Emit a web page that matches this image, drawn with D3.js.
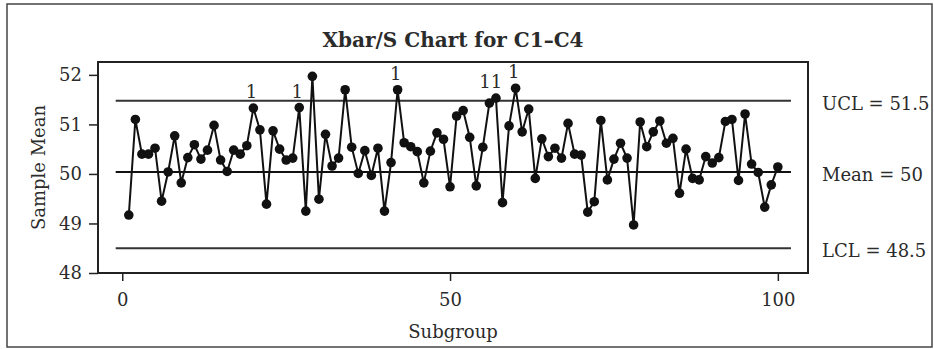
<!DOCTYPE html>
<html>
<head>
<meta charset="utf-8">
<script src="https://cdn.jsdelivr.net/npm/d3@7"></script>
<style>
    body { margin: 0; background: #ffffff; }
    text { font-family: "DejaVu Serif", serif; fill: #2b2b2b; }
</style>
</head>
<body>
<div id="chart"></div>
<script>
// sample means per subgroup
var subgroups = d3.range( 1, 101 );
var means = [
    49.17, 51.10, 50.40, 50.40, 50.52, 49.45, 50.04, 50.77, 49.82, 50.33,
    50.59, 50.30, 50.48, 50.98, 50.28, 50.05, 50.48, 50.40, 50.57, 51.33,
    50.89, 49.39, 50.87, 50.50, 50.28, 50.32, 51.34, 49.25, 51.97, 49.49,
    50.80, 50.16, 50.32, 51.70, 50.54, 50.01, 50.47, 49.97, 50.52, 49.25,
    50.23, 51.70, 50.63, 50.55, 50.45, 49.82, 50.46, 50.83, 50.70, 49.74,
    51.17, 51.28, 50.74, 49.76, 50.54, 51.43, 51.53, 49.42, 50.97, 51.73,
    50.85, 51.31, 49.91, 50.71, 50.35, 50.52, 50.32, 51.02, 50.40, 50.38,
    49.23, 49.44, 51.08, 49.88, 50.30, 50.62, 50.32, 48.97, 51.05, 50.55,
    50.85, 51.07, 50.62, 50.72, 49.61, 50.50, 49.91, 49.88, 50.35, 50.22,
    50.33, 51.06, 51.10, 49.87, 51.21, 50.20, 50.03, 49.33, 49.78, 50.14
];
var flagged = [20, 27, 42, 56, 57, 60];
var limitValues = [51.48, 50.04, 48.5];
var limitLabels = ["UCL = 51.5", "Mean = 50", "LCL = 48.5"];
var xTicks = [0, 50, 100];
var yTicks = [48, 49, 50, 51, 52];

var width = 934, height = 349;
var plot = {left: 98, right: 808, top: 62, bottom: 273};

var svg = d3.select( "#chart" )
    .append( "svg" )
    .attr( "width", width )
    .attr( "height", height );

// outer frame
svg.append( "rect" )
    .attr( "x", 7 ).attr( "y", 4 )
    .attr( "width", 925 ).attr( "height", 343 )
    .attr( "fill", "none" )
    .attr( "stroke", "#444" )
    .attr( "stroke-width", 1.5 );

var xScale = d3.scaleLinear()
    .domain( [-3.7, 104.6] )
    .range( [plot.left, plot.right] );

var yScale = d3.scaleLinear()
    .domain( [48, 52.26] )
    .range( [plot.bottom, plot.top] );

// plot box
svg.append( "rect" )
    .attr( "x", plot.left ).attr( "y", plot.top )
    .attr( "width", plot.right - plot.left )
    .attr( "height", plot.bottom - plot.top )
    .attr( "fill", "none" )
    .attr( "stroke", "#222" )
    .attr( "stroke-width", 2 );

// axes
var yAxis = svg.append( "g" )
    .attr( "transform", "translate(" + plot.left + ",0)" )
    .call( d3.axisLeft( yScale ).tickValues( yTicks ).tickFormat( d3.format( "d" ) )
        .tickSize( 9 ).tickSizeOuter( 0 ).tickPadding( 7 ) );

var xAxis = svg.append( "g" )
    .attr( "transform", "translate(0," + plot.bottom + ")" )
    .call( d3.axisBottom( xScale ).tickValues( xTicks ).tickFormat( d3.format( "d" ) )
        .tickSize( 8 ).tickSizeOuter( 0 ).tickPadding( 12 ) );

[yAxis, xAxis].forEach( function (ax) {
    ax.select( ".domain" ).remove();
    ax.selectAll( "line" ).attr( "stroke", "#222" ).attr( "stroke-width", 1.5 );
    ax.selectAll( "text" )
        .style( "font-family", "DejaVu Serif, serif" )
        .style( "font-size", "18px" )
        .attr( "fill", "#2b2b2b" );
} );

// control limit lines
svg.selectAll( "line.limit" )
    .data( limitValues )
    .enter()
    .append( "line" )
    .attr( "class", "limit" )
    .attr( "x1", xScale( -1 ) )
    .attr( "x2", xScale( 102 ) )
    .attr( "y1", function (d) { return yScale( d ); } )
    .attr( "y2", function (d) { return yScale( d ); } )
    .attr( "stroke", function (d, i) { return i == 1 ? "#111" : "#333"; } )
    .attr( "stroke-width", 2 );

// limit labels on the right
svg.selectAll( "text.limit" )
    .data( limitValues )
    .enter()
    .append( "text" )
    .attr( "class", "limit" )
    .attr( "x", 822 )
    .attr( "y", function (d) { return yScale( d ) + 9; } )
    .style( "font-size", "18px" )
    .text( function (d, i) { return limitLabels[i]; } );

// series line
var line = d3.line()
    .x( function (d, i) { return xScale( subgroups[i] ); } )
    .y( function (d) { return yScale( d ); } );

svg.append( "path" )
    .datum( means )
    .attr( "d", line )
    .attr( "fill", "none" )
    .attr( "stroke", "#111" )
    .attr( "stroke-width", 2 );

svg.selectAll( "circle" )
    .data( means )
    .enter()
    .append( "circle" )
    .attr( "cx", function (d, i) { return xScale( subgroups[i] ); } )
    .attr( "cy", function (d) { return yScale( d ); } )
    .attr( "r", 4.8 )
    .attr( "fill", "#111" );

// test failure flags, consecutive subgroups share one label
var flagGroups = [];
flagged.forEach( function (d) {
    var last = flagGroups[flagGroups.length - 1];
    if (last && last[last.length - 1] == d - 1) last.push( d );
    else flagGroups.push( [d] );
} );

svg.selectAll( "text.flag" )
    .data( flagGroups )
    .enter()
    .append( "text" )
    .attr( "class", "flag" )
    .attr( "x", function (g) { return xScale( d3.mean( g ) ) - 2; } )
    .attr( "y", function (g) {
        return yScale( d3.max( g, function (d) { return means[d - 1]; } ) ) - 10;
    } )
    .style( "text-anchor", "middle" )
    .style( "font-size", "18px" )
    .text( function (g) { return g.map( function () { return "1"; } ).join( "" ); } );

// title
svg.append( "text" )
    .attr( "x", (plot.left + plot.right) / 2 )
    .attr( "y", 47 )
    .style( "text-anchor", "middle" )
    .style( "font-size", "20px" )
    .style( "font-weight", "bold" )
    .text( "Xbar/S Chart for C1\u2013C4" );

// axis titles
svg.append( "text" )
    .attr( "x", (plot.left + plot.right) / 2 )
    .attr( "y", 338 )
    .style( "text-anchor", "middle" )
    .style( "font-size", "18px" )
    .text( "Subgroup" );

svg.append( "text" )
    .attr( "transform", "translate(45," + (plot.top + plot.bottom) / 2 + ") rotate(-90)" )
    .style( "text-anchor", "middle" )
    .style( "font-size", "18px" )
    .text( "Sample Mean" );
</script>
</body>
</html>
